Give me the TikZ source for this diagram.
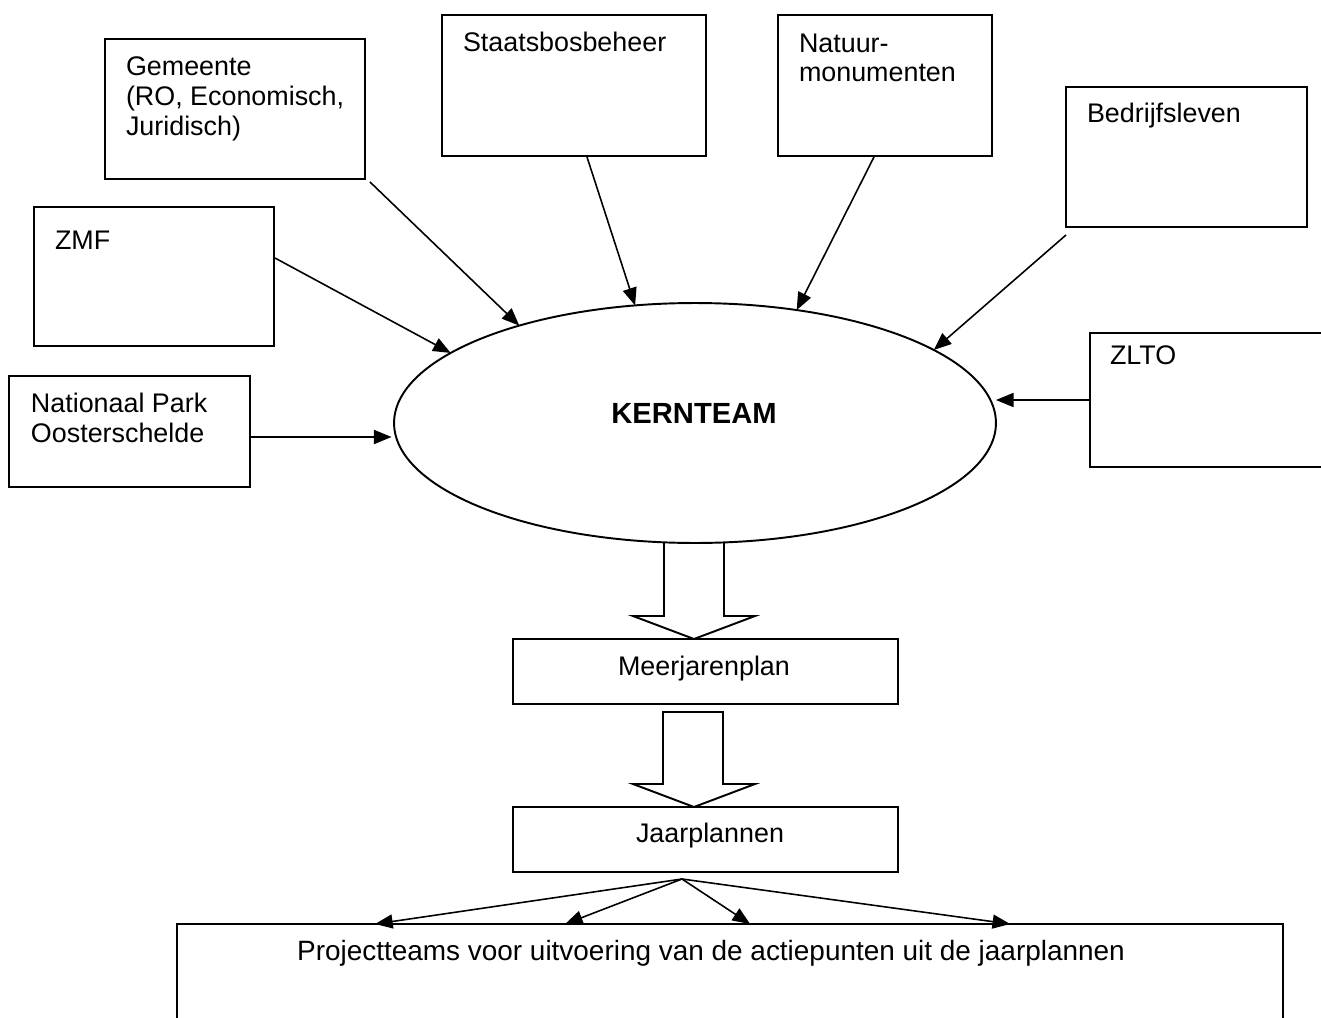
\documentclass[tikz,border=0pt]{standalone}
\usepackage{fontspec}
\setmainfont{Liberation Sans}
\usetikzlibrary{arrows.meta,shapes.geometric,calc}
\begin{document}
\begin{tikzpicture}[x=0.02cm,y=-0.02cm,
  box/.style={draw,line width=1.1pt,rectangle,inner sep=0pt,outer sep=0pt},
  lbl/.style={inner sep=0pt,outer sep=0pt,font=\fontsize{15.3}{17}\selectfont,align=left,anchor=base west},
  clbl/.style={inner sep=0pt,outer sep=0pt,font=\fontsize{15.3}{17}\selectfont,anchor=base},
  arr/.style={line width=0.9pt,-{Triangle[length=10pt,width=8pt]}},
  blk/.style={draw,line width=1.1pt,line join=miter}]
\clip (0,0) rectangle (1321,1017);
\fill[white] (0,0) rectangle (1321,1017);

% boxes
\node[box,minimum width=5.2cm,minimum height=2.8cm] (gem) at (235,109) {};
\node[box,minimum width=5.28cm,minimum height=2.82cm] (sbb) at (574,85.5) {};
\node[box,minimum width=4.28cm,minimum height=2.82cm] (nat) at (885,85.5) {};
\node[box,minimum width=4.82cm,minimum height=2.8cm] (bed) at (1186.5,157) {};
\node[box,minimum width=4.8cm,minimum height=2.78cm] (zmf) at (154,276.5) {};
\node[box,minimum width=4.82cm,minimum height=2.22cm] (np) at (129.5,431.5) {};
\node[box,minimum width=5cm,minimum height=2.68cm] (zlto) at (1215,400) {};
\node[box,minimum width=7.7cm,minimum height=1.3cm] (mjp) at (705.5,671.5) {};
\node[box,minimum width=7.7cm,minimum height=1.3cm] (jp) at (705.5,839.5) {};
\node[box,minimum width=22.12cm,minimum height=2.32cm] (pt) at (730,982) {};
\node[draw,ellipse,line width=1.1pt,inner sep=0pt,outer sep=0pt,minimum width=12.04cm,minimum height=4.8cm] (kern) at (695,423) {};

% labels (base anchor = last line)
\node[lbl] (tgem) at (126,135) {Gemeente\\(RO, Economisch,\\Juridisch)};
\node[lbl] (tsbb) at (463,52) {Staatsbosbeheer};
\node[lbl] (tnat) at (799,82) {Natuur-\\monumenten};
\node[lbl] (tbed) at (1087,122) {Bedrijfsleven};
\node[lbl] (tzmf) at (55,249) {ZMF};
\node[lbl] (tnp) at (31,442) {Nationaal Park\\Oosterschelde};
\node[lbl] (tzlto) at (1110,364) {ZLTO};
\node[clbl,font=\fontsize{16.6}{18}\selectfont\bfseries] (tkern) at (694,423) {KERNTEAM};
\node[clbl] (tmjp) at (704,675) {Meerjarenplan};
\node[clbl] (tjp) at (710,842) {Jaarplannen};
\node[clbl,font=\fontsize{15.9}{18}\selectfont] (tpt) at (711,960) {Projectteams voor uitvoering van de actiepunten uit de jaarplannen};

% connectors into the kernteam
\draw[arr] ($(gem.south east)+(5,3)$) -- (kern.151.9);
\draw[arr] ($(sbb.south)+(13,1)$) -- (kern.117.3);
\draw[arr] ($(nat.south)+(-11,1)$) -- (kern.48.7);
\draw[arr] ($(bed.south west)+(0,8)$) -- (kern.17.5);
\draw[arr] ($(zmf.east)+(1,-18.5)$) -- (kern.164);
\coordinate (npOut) at ($(np.east)+(0,5.5)$);
\draw[arr,shorten >=0.05cm] (npOut) -- (kern.west |- npOut);
\draw[arr] (zlto.west) -- (kern.east |- zlto.west);

% block arrows
\draw[blk] (664,542) -- (664,616) -- (633,616) -- (694,639) -- (755,616) -- (724,616) -- (724,542);
\draw[blk] (663,712) -- (663,784) -- (633,784) -- (694,807) -- (755,784) -- (723,784) -- (723,712) -- cycle;

% jaarplannen to projectteams
\coordinate (jpOut) at ($(jp.south)+(-23.5,7)$);
\draw[arr] (jpOut) -- ($(pt.north west)+(198,0)$);
\draw[arr] (jpOut) -- ($(pt.north west)+(388,0)$);
\draw[arr] (jpOut) -- ($(pt.north west)+(573,0)$);
\draw[arr] (jpOut) -- ($(pt.north west)+(833,0)$);
\end{tikzpicture}
\end{document}
